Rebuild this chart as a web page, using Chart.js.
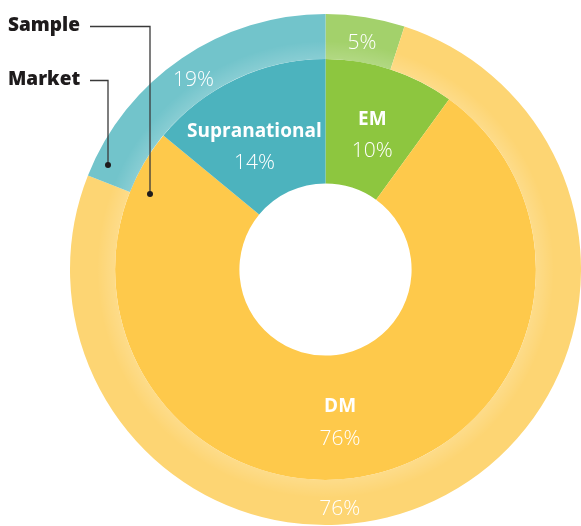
<!DOCTYPE html>
<html>
<head>
<meta charset="utf-8">
<script src="https://cdn.jsdelivr.net/npm/chart.js@4.4.1/dist/chart.umd.min.js"></script>
<style>
  html, body { margin: 0; padding: 0; background: #fff; overflow: hidden; }
  #wrap { position: relative; width: 581px; height: 526px; }
</style>
</head>
<body>
<div id="wrap"><canvas id="ring" width="581" height="526"></canvas></div>
<script>
const categories = ['EM', 'DM', 'Supranational']
const marketShare = [5, 76, 19]   // outer ring
const sampleShare = [10, 76, 14]  // inner ring
const seriesNames = ['Market', 'Sample']

const marketColors = ['#A3D16B', '#FDD573', '#72C4CB']
const sampleColors = ['#8DC63F', '#FEC94B', '#4CB3BE']

// nudges so the labels sit where the original put them
const innerNudge = [[1, 7], [-4, 6], [-8, 12]]
const outerNudge = [[0, 4], [-85, 29], [-1, 3]]

const midPoint = (arc) => {
    const p = arc.getProps(['x', 'y', 'startAngle', 'endAngle', 'innerRadius', 'outerRadius'], true)
    const a = (p.startAngle + p.endAngle) / 2
    const r = (p.innerRadius + p.outerRadius) / 2
    return { x: p.x + Math.cos(a) * r, y: p.y + Math.sin(a) * r, p }
}

const ringShine = {
    id: 'ringShine',
    afterDatasetsDraw(chart) {
        const ctx = chart.ctx
        chart.getDatasetMeta(0).data.forEach(arc => {
            const p = arc.getProps(['x', 'y', 'startAngle', 'endAngle', 'innerRadius', 'outerRadius'], true)
            const g = ctx.createRadialGradient(p.x, p.y, p.innerRadius, p.x, p.y, p.outerRadius)
            g.addColorStop(0, 'rgba(255,255,255,0.16)')
            g.addColorStop(0.4, 'rgba(255,255,255,0)')
            ctx.save()
            ctx.beginPath()
            ctx.arc(p.x, p.y, p.outerRadius, p.startAngle, p.endAngle)
            ctx.arc(p.x, p.y, p.innerRadius, p.endAngle, p.startAngle, true)
            ctx.closePath()
            ctx.fillStyle = g
            ctx.fill()
            ctx.restore()
        })
    }
}

const ringLabels = {
    id: 'ringLabels',
    afterDraw(chart) {
        const ctx = chart.ctx
        ctx.save()
        ctx.fillStyle = '#fff'
        ctx.textAlign = 'center'
        ctx.textBaseline = 'middle'

        chart.getDatasetMeta(1).data.forEach((arc, i) => {
            const m = midPoint(arc)
            const x = m.x + innerNudge[i][0]
            const y = m.y + innerNudge[i][1]
            ctx.font = 'bold 19px "Open Sans"'
            ctx.fillText(categories[i], x, y - 16)
            ctx.font = '300 21px "Open Sans"'
            ctx.fillText(sampleShare[i] + '%', x, y + 16)
        })

        chart.getDatasetMeta(0).data.forEach((arc, i) => {
            const m = midPoint(arc)
            ctx.font = '300 21px "Open Sans"'
            ctx.fillText(marketShare[i] + '%', m.x + outerNudge[i][0], m.y + outerNudge[i][1])
        })

        // series callouts on the left
        const callouts = [
            { name: seriesNames[1], ty: 26, lx: 150, ey: 194 },
            { name: seriesNames[0], ty: 80, lx: 108, ey: 165 }
        ]
        ctx.textAlign = 'left'
        ctx.font = '800 19px "Open Sans"'
        callouts.forEach(c => {
            ctx.fillStyle = '#1e1b1c'
            ctx.fillText(c.name, 8, c.ty)
            ctx.strokeStyle = '#3a3a3a'
            ctx.lineWidth = 1.3
            ctx.beginPath()
            ctx.moveTo(90, c.ty + 0.5)
            ctx.lineTo(c.lx, c.ty + 0.5)
            ctx.lineTo(c.lx, c.ey)
            ctx.stroke()
            ctx.beginPath()
            ctx.arc(c.lx, c.ey, 3, 0, Math.PI * 2)
            ctx.fill()
        })
        ctx.restore()
    }
}

new Chart(document.querySelector('#ring'), {
    type: 'doughnut',
    data: {
        labels: categories,
        datasets: [
            {
                label: seriesNames[0],
                data: marketShare,
                backgroundColor: marketColors,
                borderWidth: 0,
                weight: 45
            },
            {
                label: seriesNames[1],
                data: sampleShare,
                backgroundColor: sampleColors,
                borderWidth: 0,
                weight: 124
            }
        ]
    },
    options: {
        responsive: false,
        animation: false,
        cutout: '33.7%',
        layout: { padding: { left: 70, right: 0, top: 13, bottom: 0 } },
        plugins: {
            legend: { display: false },
            tooltip: { enabled: false }
        }
    },
    plugins: [ringShine, ringLabels]
})
</script>
</body>
</html>
